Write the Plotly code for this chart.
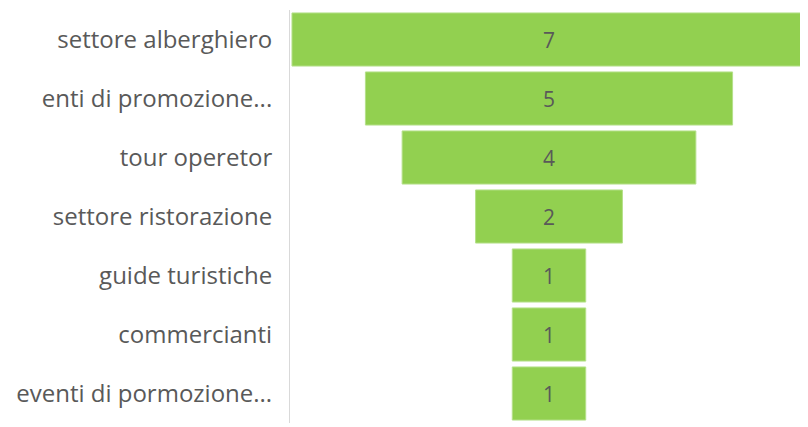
import plotly.graph_objects as go

categories = ["settore alberghiero", "enti di promozione...", "tour operetor",
              "settore ristorazione", "guide turistiche", "commercianti",
              "eventi di pormozione..."]
values = [7, 5, 4, 2, 1, 1, 1]

fig = go.Figure(go.Funnel(
    y=categories,
    x=values,
    textinfo="value",
    textposition="inside",
    insidetextfont=dict(color="#595959", size=21, family="Open Sans"),
    marker=dict(color="#92D050", line=dict(color="#B5E08A", width=1)),
    connector=dict(visible=False),
    width=0.9,
))

fig.update_layout(
    width=800, height=419,
    margin=dict(l=282, r=0, t=2, b=4),
    paper_bgcolor="white", plot_bgcolor="white",
    showlegend=False,
    font=dict(family="Open Sans", color="#595959"),
)
fig.update_xaxes(visible=False, range=[-3.527, 3.527])
fig.update_yaxes(showline=True, linecolor="#D9D9D9", linewidth=1,
                 tickfont=dict(size=24, color="#595959", family="Open Sans"),
                 ticklabelstandoff=12, showgrid=False)

fig.write_html("out.html")
